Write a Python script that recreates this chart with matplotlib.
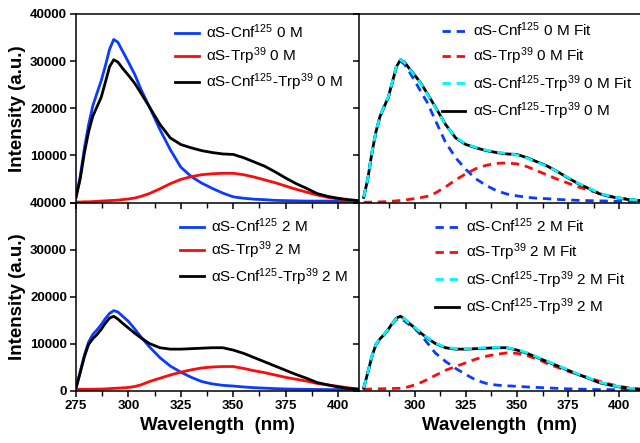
import matplotlib
matplotlib.use("Agg")
import matplotlib.pyplot as plt
from matplotlib.ticker import MultipleLocator, FixedLocator

plt.rcParams['font.family'] = ['Liberation Sans', 'DejaVu Sans']
plt.rcParams['mathtext.fontset'] = 'custom'
plt.rcParams['mathtext.rm'] = 'Liberation Sans'
plt.rcParams['mathtext.it'] = 'Liberation Sans:italic'
plt.rcParams['mathtext.bf'] = 'Liberation Sans:bold'

wavelength = [275, 277, 279, 281, 283, 285, 287, 289, 291, 293, 295, 297, 300, 303, 306, 310,
              315, 320, 325, 330, 335, 340, 345, 350, 355, 360, 365, 370, 375, 380, 385, 390,
              395, 400, 405, 410]

# 0 M data
cnf_0M = [1100, 5500, 11500, 16500, 20500, 23200, 25800, 29000, 32500, 34600, 34000, 32300, 29800,
          27200, 24000, 20300, 15500, 11200, 7500, 5500, 4100, 3000, 2000, 1200, 900, 700, 600, 450,
          400, 350, 300, 300, 300, 250, 250, 250]
trp_0M = [100, 100, 150, 150, 200, 250, 300, 350, 400, 450, 500, 600, 750, 950, 1300, 1900, 2900,
          4000, 4900, 5500, 5900, 6100, 6200, 6200, 5900, 5400, 4800, 4200, 3500, 2800, 2200, 1600,
          1100, 750, 500, 300]
both_0M = [1100, 5000, 10500, 15000, 18300, 20300, 22300, 25500, 28800, 30300, 29800, 28600, 27000,
           25300, 23200, 20300, 16600, 13700, 12300, 11600, 11000, 10600, 10300, 10200, 9500, 8600,
           7700, 6500, 5200, 4000, 3000, 1900, 1300, 900, 600, 400]
cnf_0M_fit = [1100, 5000, 10500, 15000, 18300, 20300, 22300, 25500, 28800, 30000, 29300, 28000,
              25800, 23500, 21300, 17500, 12800, 9500, 7000, 5000, 3600, 2500, 1800, 1400, 1100, 900,
              800, 650, 550, 450, 400, 350, 300, 250, 250, 200]
trp_0M_fit = [50, 60, 80, 100, 130, 170, 220, 280, 350, 430, 520, 640, 850, 1050, 1300, 2000, 3300,
              4800, 6100, 7200, 7900, 8300, 8400, 8200, 7600, 6700, 5800, 4900, 4100, 3300, 2650,
              2000, 1400, 1000, 650, 400]
both_0M_fit = [1150, 5050, 10550, 15050, 18350, 20350, 22400, 25600, 28900, 30300, 29700, 28500,
               26900, 25200, 23100, 20200, 16500, 13800, 12400, 11700, 11100, 10700, 10400, 10100,
               9400, 8500, 7600, 6500, 5300, 4100, 3100, 2000, 1400, 950, 650, 450]

# 2 M data
cnf_2M = [500, 4000, 7500, 10300, 11900, 12900, 14000, 15300, 16400, 17000, 16700, 15900, 14700,
          13100, 11400, 9300, 7000, 5200, 3900, 2800, 1900, 1400, 1100, 950, 750, 600, 500, 400,
          320, 280, 250, 220, 200, 200, 200, 150]
trp_2M = [250, 250, 250, 250, 250, 300, 300, 350, 400, 450, 500, 550, 650, 850, 1200, 1900, 2600,
          3300, 3900, 4400, 4800, 5000, 5100, 5100, 4700, 4200, 3800, 3300, 2800, 2400, 2000, 1500,
          1200, 900, 550, 300]
both_2M = [500, 3800, 7200, 9800, 11000, 11900, 13000, 14300, 15400, 15800, 15200, 14400, 13300,
           12200, 11200, 10000, 9100, 8800, 8800, 8900, 9000, 9100, 9100, 8600, 7900, 7000, 6100,
           5200, 4300, 3400, 2600, 1700, 1200, 750, 450, 250]
cnf_2M_fit = [500, 3800, 7200, 9800, 11000, 11900, 13000, 14200, 15100, 15300, 14800, 14100, 13200,
              11800, 10200, 8000, 6200, 4700, 3400, 2200, 1500, 1150, 1000, 900, 750, 650, 550, 450,
              350, 300, 250, 200, 200, 150, 150, 100]
trp_2M_fit = [300, 300, 320, 340, 360, 380, 400, 420, 450, 480, 600, 800, 1200, 1700, 2300, 3200,
              4300, 5100, 5900, 6700, 7300, 7700, 8000, 7900, 7400, 6700, 5700, 4900, 4100, 3400,
              2700, 2000, 1400, 900, 550, 300]
both_2M_fit = [550, 3850, 7250, 9850, 11050, 11950, 13050, 14300, 15300, 15700, 15200, 14400, 13400,
               12300, 11300, 10100, 9200, 8900, 8900, 9000, 9100, 9200, 9100, 8700, 8000, 7100,
               6200, 5300, 4400, 3500, 2700, 1800, 1300, 800, 500, 300]

BLUE = '#0a3cff'
RED = '#ff0a0a'
CYAN = '#00f5ff'
BLACK = '#000000'

fig = plt.figure(figsize=(6.4, 4.43), dpi=100)
W, H = 640.0, 443.0
L, M, R = 76 / W, 359 / W, 1.0
T, Mid, B = 1 - 14 / H, 1 - 202.5 / H, 1 - 390.5 / H

ax_tl = fig.add_axes([L, Mid, M - L, T - Mid])
ax_tr = fig.add_axes([M, Mid, R - M, T - Mid])
ax_bl = fig.add_axes([L, B, M - L, Mid - B])
ax_br = fig.add_axes([M, B, R - M, Mid - B])

lw = 2.0
dash = (3.0, 2.1)

def lab(base, sup1, rest, sup2=None, rest2=''):
    s = base + '$^{' + sup1 + '}$' + rest
    if sup2 is not None:
        s += '$^{' + sup2 + '}$' + rest2
    return s

# Top-left
ax_tl.plot(wavelength, cnf_0M, color=BLUE, lw=lw, label=lab('αS-Cnf', '125', ' 0 M'))
ax_tl.plot(wavelength, trp_0M, color=RED, lw=lw, label=lab('αS-Trp', '39', ' 0 M'))
ax_tl.plot(wavelength, both_0M, color=BLACK, lw=lw, label=lab('αS-Cnf', '125', '-Trp', '39', ' 0 M'))

# Top-right
ax_tr.plot(wavelength, cnf_0M_fit, color=BLUE, lw=lw, dashes=dash, label=lab('αS-Cnf', '125', ' 0 M Fit'))
ax_tr.plot(wavelength, trp_0M_fit, color=RED, lw=lw, dashes=dash, label=lab('αS-Trp', '39', ' 0 M Fit'))
ax_tr.plot(wavelength, both_0M, color=BLACK, lw=lw, label=lab('αS-Cnf', '125', '-Trp', '39', ' 0 M'), zorder=2)
ax_tr.plot(wavelength, both_0M_fit, color=CYAN, lw=lw, dashes=dash, label=lab('αS-Cnf', '125', '-Trp', '39', ' 0 M Fit'), zorder=3)

# Bottom-left
ax_bl.plot(wavelength, cnf_2M, color=BLUE, lw=lw, label=lab('αS-Cnf', '125', ' 2 M'))
ax_bl.plot(wavelength, trp_2M, color=RED, lw=lw, label=lab('αS-Trp', '39', ' 2 M'))
ax_bl.plot(wavelength, both_2M, color=BLACK, lw=lw, label=lab('αS-Cnf', '125', '-Trp', '39', ' 2 M'))

# Bottom-right
ax_br.plot(wavelength, cnf_2M_fit, color=BLUE, lw=lw, dashes=dash, label=lab('αS-Cnf', '125', ' 2 M Fit'))
ax_br.plot(wavelength, trp_2M_fit, color=RED, lw=lw, dashes=dash, label=lab('αS-Trp', '39', ' 2 M Fit'))
ax_br.plot(wavelength, both_2M, color=BLACK, lw=lw, label=lab('αS-Cnf', '125', '-Trp', '39', ' 2 M'), zorder=2)
ax_br.plot(wavelength, both_2M_fit, color=CYAN, lw=lw, dashes=dash, label=lab('αS-Cnf', '125', '-Trp', '39', ' 2 M Fit'), zorder=3)

tick_font = dict(fontsize=9.5, fontweight='bold')
for ax in (ax_tl, ax_tr, ax_bl, ax_br):
    ax.set_ylim(0, 40000)
    ax.yaxis.set_major_locator(MultipleLocator(10000))
    for s in ax.spines.values():
        s.set_linewidth(1.1)
    ax.spines['right'].set_visible(False)
    ax.tick_params(axis='both', which='major', direction='out', length=4.5, width=1.1)
    ax.tick_params(axis='x', which='minor', direction='out', length=3.5, width=1.0)
    ax.set_facecolor('none')

ax_tl.set_xlim(275, 410)
ax_bl.set_xlim(275, 410)
ax_tr.set_xlim(272.7, 410.2)
ax_br.set_xlim(272.7, 410.2)
for ax in (ax_tl, ax_bl):
    ax.xaxis.set_major_locator(FixedLocator([275, 300, 325, 350, 375, 400]))
    ax.xaxis.set_minor_locator(FixedLocator([287.5, 312.5, 337.5, 362.5, 387.5]))
for ax in (ax_tr, ax_br):
    ax.xaxis.set_major_locator(FixedLocator([300, 325, 350, 375, 400]))
    ax.xaxis.set_minor_locator(FixedLocator([287.5, 312.5, 337.5, 362.5, 387.5]))

for ax in (ax_tl, ax_tr):
    ax.tick_params(axis='x', labelbottom=False)
for ax in (ax_tr, ax_br):
    ax.tick_params(axis='y', labelleft=False)
for ax in (ax_bl, ax_br):
    ax.spines['top'].set_visible(False)

ax_tl.set_yticks([10000, 20000, 30000, 40000])
ax_tl.set_yticks([0], minor=True)
ax_tl.tick_params(axis='y', which='minor', length=4.5, width=1.1, direction='out')
ax_tl.set_yticklabels(['10000', '20000', '30000', '40000'], **tick_font)
ax_bl.set_yticks([0, 10000, 20000, 30000, 40000])
ax_bl.set_yticklabels(['0', '10000', '20000', '30000', '40000'], **tick_font)
ax_bl.set_xticklabels(['275', '300', '325', '350', '375', '400'], **tick_font)
ax_br.set_xticklabels(['300', '325', '350', '375', '400'], **tick_font)
for ax in (ax_tl, ax_bl, ax_br):
    ax.tick_params(axis='both', pad=2)

for ax in (ax_tl, ax_bl):
    ax.set_ylabel('Intensity (a.u.)', fontsize=13.5, fontweight='bold', labelpad=3)
for ax in (ax_bl, ax_br):
    ax.set_xlabel('Wavelength  (nm)', fontsize=13.5, fontweight='bold', labelpad=4)

leg_kw = dict(loc='upper left', frameon=False, fontsize=11, borderpad=0, borderaxespad=0,
              handlelength=1.55, handletextpad=0.5)
ax_tl.legend(bbox_to_anchor=(0.35, 0.955), labelspacing=0.3, **leg_kw)
h, l = ax_tr.get_legend_handles_labels()
order = [0, 1, 3, 2]
ax_tr.legend([h[i] for i in order], [l[i] for i in order], bbox_to_anchor=(0.294, 0.965),
             labelspacing=0.4, **leg_kw)
ax_bl.legend(bbox_to_anchor=(0.367, 0.925), labelspacing=0.3, **leg_kw)
h, l = ax_br.get_legend_handles_labels()
ax_br.legend([h[i] for i in order], [l[i] for i in order], bbox_to_anchor=(0.27, 0.925),
             labelspacing=0.4, **leg_kw)

fig.savefig('out.png', dpi=100)
